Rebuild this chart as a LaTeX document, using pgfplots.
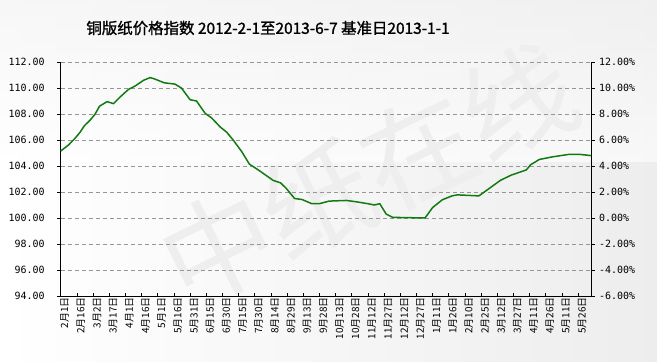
\documentclass[border=0pt]{standalone}
\usepackage{pgfplots}
\pgfplotsset{compat=1.18}
\usepackage{fontspec}
\newfontfamily\cjk{Noto Sans CJK SC}
\newfontfamily\cjkt[FakeBold=1.3]{Noto Sans CJK SC}
\newfontfamily\mono{DejaVu Sans Mono}
\definecolor{linegreen}{RGB}{18,122,18}
\definecolor{gridgray}{RGB}{150,150,150}
\pgfplotstableread{
d v
0 105.15
7 105.6
13 106.1
18 106.6
22 107.1
27 107.5
32 108.0
36 108.6
43 108.95
49 108.8
55 109.3
63 109.9
69 110.15
77 110.6
83 110.8
87 110.7
96 110.4
106 110.3
112 110.0
120 109.1
126 109.0
134 108.05
140 107.7
148 107.0
154 106.6
160 106.0
168 105.1
175 104.15
185 103.6
197 102.9
204 102.7
209 102.3
217 101.5
224 101.42
233 101.1
240 101.1
249 101.3
265 101.35
274 101.25
285 101.1
291 101.0
296 101.1
302 100.3
308 100.05
338 100.0
345 100.8
354 101.4
363 101.7
368 101.78
388 101.7
393 102.0
408 102.9
418 103.3
432 103.7
436 104.1
444 104.5
456 104.7
472 104.9
481 104.9
492 104.8
}\datatable
\begin{document}
\begin{tikzpicture}[x=1bp,y=1bp]
\useasboundingbox (0,0) rectangle (657,361);
\shade[left color=white, right color=gray!14] (0,0) rectangle (657,361);
\shade[top color=gray!10, bottom color=white, opacity=0.6] (0,200) rectangle (657,361);
\node[text=gray!13, rotate=26, font=\cjk\fontsize{112}{112}\selectfont] at (368,186) {中纸在线};
\node[font=\cjkt\fontsize{15.5}{18}\selectfont] at (268,333) {铜版纸价格指数 2012-2-1至2013-6-7 基准日2013-1-1};
\begin{axis}[
  at={(60.7bp,65bp)}, anchor=south west,
  width=530.3bp, height=234bp, scale only axis,
  xmin=0, xmax=492, ymin=94, ymax=112,
  axis x line*=bottom, axis y line*=left,
  axis line style={black, line width=0.8pt, -},
  xtick={0,15,...,480},
  xticklabels={2月1日,2月16日,3月2日,3月17日,4月1日,4月16日,5月1日,5月16日,5月31日,6月15日,6月30日,7月15日,7月30日,8月14日,8月29日,9月13日,9月28日,10月13日,10月28日,11月12日,11月27日,12月12日,12月27日,1月11日,1月26日,2月10日,2月25日,3月12日,3月27日,4月11日,4月26日,5月11日,5月26日},
  xticklabel style={rotate=90, anchor=east, font=\cjk\fontsize{10}{10}\selectfont, inner sep=1pt, yshift=-4bp},
  x tick style={black, line width=0.6pt},
  xtick align=inside,
  ytick={94,96,...,112},
  ytick align=outside,
  y tick style={black, line width=0.6pt},
  major tick length=3.5bp,
  yticklabel style={/pgf/number format/.cd, fixed, fixed zerofill, precision=2, assume math mode=true, /tikz/.cd, font=\mono\fontsize{10}{10}\selectfont, xshift=-9bp},
  ymajorgrids,
  grid style={gridgray, dash pattern=on 4bp off 3bp, line width=0.6pt},
  clip=false,
]
\addplot[linegreen, line width=1.5bp, no marks] table[x=d,y=v] {\datatable};
\end{axis}
\begin{axis}[
  at={(60.7bp,65bp)}, anchor=south west,
  width=530.3bp, height=234bp, scale only axis,
  xmin=0, xmax=492, ymin=-6, ymax=12,
  axis y line*=right, axis x line=none,
  axis line style={black, line width=0.8pt, -},
  ytick={-6,-4,...,12},
  ytick align=outside,
  y tick style={black, line width=0.6pt},
  major tick length=3.5bp,
  yticklabel={\pgfmathprintnumber[fixed,fixed zerofill,precision=2,assume math mode=true]{\tick}\%},
  yticklabel style={font=\mono\fontsize{10}{10}\selectfont, xshift=1bp},
]
\addplot[draw=none] coordinates {(0,0)};
\end{axis}
\end{tikzpicture}
\end{document}
